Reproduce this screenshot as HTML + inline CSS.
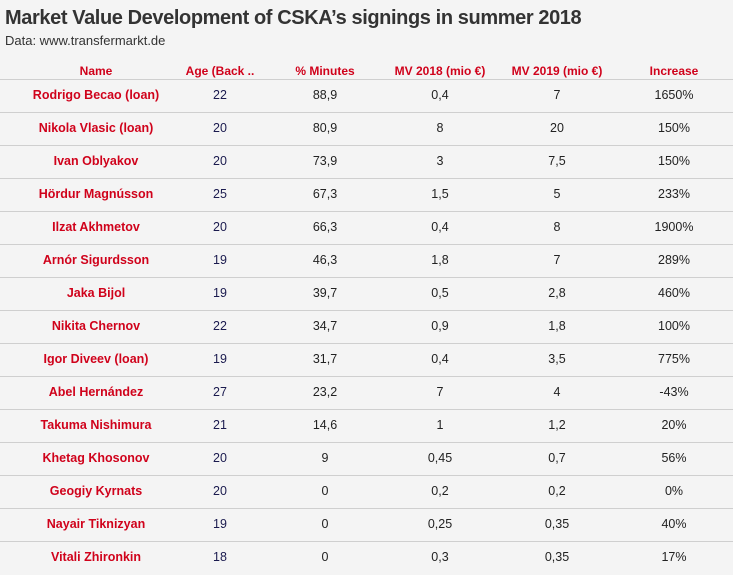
<!DOCTYPE html>
<html><head><meta charset="utf-8"><style>
html,body{margin:0;padding:0;}
body{width:733px;height:575px;background:#f4f4f4;font-family:"Liberation Sans",sans-serif;position:relative;overflow:hidden;}
#title{position:absolute;left:5px;top:7px;font-size:20px;font-weight:bold;color:#333;letter-spacing:-0.4px;}
#sub{position:absolute;left:5px;top:33px;font-size:13px;color:#333;}
.c{position:absolute;transform:translateX(-50%);white-space:nowrap;font-size:12.5px;line-height:16px;}
.h{color:#d0021b;font-weight:bold;font-size:12px;}
.n{color:#d0021b;font-weight:bold;}
.line{position:absolute;left:0;width:733px;height:1px;background:#cfcfcf;}
</style></head><body>
<div id="title">Market Value Development of CSKA’s signings in summer 2018</div>
<div id="sub">Data: www.transfermarkt.de</div>
<div id="tbl"></div>
<script>
const headers=["Name","Age (Back ..","% Minutes","MV 2018 (mio €)","MV 2019 (mio €)","Increase"];
const names=["Rodrigo Becao (loan)","Nikola Vlasic (loan)","Ivan Oblyakov","Hördur Magnússon","Ilzat Akhmetov","Arnór Sigurdsson","Jaka Bijol","Nikita Chernov","Igor Diveev (loan)","Abel Hernández","Takuma Nishimura","Khetag Khosonov","Geogiy Kyrnats","Nayair Tiknizyan","Vitali Zhironkin"];
const ages=["22","20","20","25","20","19","19","22","19","27","21","20","20","19","18"];
const minutes=["88,9","80,9","73,9","67,3","66,3","46,3","39,7","34,7","31,7","23,2","14,6","9","0","0","0"];
const mv2018=["0,4","8","3","1,5","0,4","1,8","0,5","0,9","0,4","7","1","0,45","0,2","0,25","0,3"];
const mv2019=["7","20","7,5","5","8","7","2,8","1,8","3,5","4","1,2","0,7","0,2","0,35","0,35"];
const increase=["1650%","150%","150%","233%","1900%","289%","460%","100%","775%","-43%","20%","56%","0%","40%","17%"];
const colX=[96,220,325,440,557,674];
const tbl=document.getElementById('tbl');
headers.forEach((h,i)=>{const d=document.createElement('div');d.className='c h';d.style.left=colX[i]+'px';d.style.top='63px';d.textContent=h;


tbl.appendChild(d);});
const cols=[names,ages,minutes,mv2018,mv2019,increase];
const colors=[null,'#1a1a4e','#222','#222','#222','#222'];
names.forEach((n,r)=>{
 const ln=document.createElement('div');ln.className='line';ln.style.top=(79+33*r)+'px';
 
 
 tbl.appendChild(ln);
 cols.forEach((arr,i)=>{const d=document.createElement('div');d.className='c'+(i==0?' n':'');if(colors[i])d.style.color=colors[i];
 d.style.left=colX[i]+'px';d.style.top=(87+33*r)+'px';d.textContent=arr[r];
 
 
 tbl.appendChild(d);});
});
</script>
</body></html>
